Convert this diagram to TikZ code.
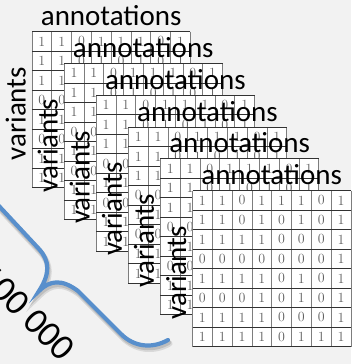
\documentclass[tikz,border=0pt]{standalone}
\usepackage{fontspec}
\newfontfamily\labelfont{Carlito}
\definecolor{bgcol}{RGB}{242,242,242}
\definecolor{bracecol}{RGB}{88,143,204}
\definecolor{rowline}{RGB}{50,50,50}
\definecolor{colline}{RGB}{125,125,125}
\definecolor{digitcol}{RGB}{95,95,95}

\begin{document}
\begin{tikzpicture}[x=1pt,y=-1pt,
  annot/.style={font=\labelfont\fontsize{29}{29}\selectfont, text=black,
    inner sep=0pt, anchor=base},
  varlab/.style={annot, rotate=90},
  digit/.style={font=\fontsize{14}{14}\selectfont, text=digitcol, inner sep=0pt},
  hrule/.style={rowline, line width=0.9pt},
  vrule/.style={colline, line width=0.7pt},
  countlab/.style={font=\labelfont\fontsize{36.5}{36.5}\selectfont, text=black,
    inner sep=0pt, rotate=-45},
  bracepath/.style={insert path={
    (-12,165) .. controls (-14,180) and (-16,190) .. (-2,205)
    -- (39,249) .. controls (50,261) and (50,274) .. (39,291)
    .. controls (50,280) and (62,279) .. (78,291)
    -- (121,334) .. controls (134,347) and (152,349) .. (168,340)}},
]
% canvas
\fill[bgcol] (0,0) rectangle (351,364);
\useasboundingbox (0,0) rectangle (351,364);

% stack of six 8x8 binary matrices, back to front
\def\cw{19.8}
\def\ch{19.5}
\foreach \k in {0,...,5} {
  \pgfmathsetmacro\xo{32+32.1*\k}
  \pgfmathsetmacro\yo{31.7+31.8*\k}
  \fill[white] (\xo,\yo) rectangle ++(8*\cw,8*\ch);
  \foreach \j in {0,...,8}
    \draw[vrule] (\xo+\j*\cw,\yo) -- ++(0,8*\ch);
  \foreach \i in {0,...,8}
    \draw[hrule] (\xo,\yo+\i*\ch) -- ++(8*\cw,0);
  \foreach \row [count=\i from 0] in
    {{1,1,0,1,1,1,0,1},{1,1,0,1,0,1,0,1},{1,1,1,1,0,0,0,1},{0,0,0,0,0,0,0,1},
     {1,1,1,1,0,1,0,1},{0,0,0,1,0,1,0,1},{1,1,1,1,0,0,0,1},{1,1,1,1,0,1,1,1}}
    \foreach \d [count=\j from 0] in \row
      \node[digit] at (\xo+\j*\cw+0.5*\cw,\yo+\i*\ch+0.5*\ch) {\d};
  \node[annot] (ann\k) at (\xo+4*\cw,\yo-6) {annotations};
  \node[varlab] (var\k) at (\xo-6.5,\yo+4*\ch+4) {variants};
}

% curly brace with soft shadow
\draw[black, opacity=0.10, line width=6pt, line cap=round, shift={(1.5,3.5)}, bracepath];
\draw[black, opacity=0.12, line width=4.5pt, line cap=round, shift={(1,2.5)}, bracepath];
\draw[bracecol, line width=4.2pt, line cap=round, bracepath];

\node[countlab] (count) at (27,312) {100 000};
\end{tikzpicture}
\end{document}
